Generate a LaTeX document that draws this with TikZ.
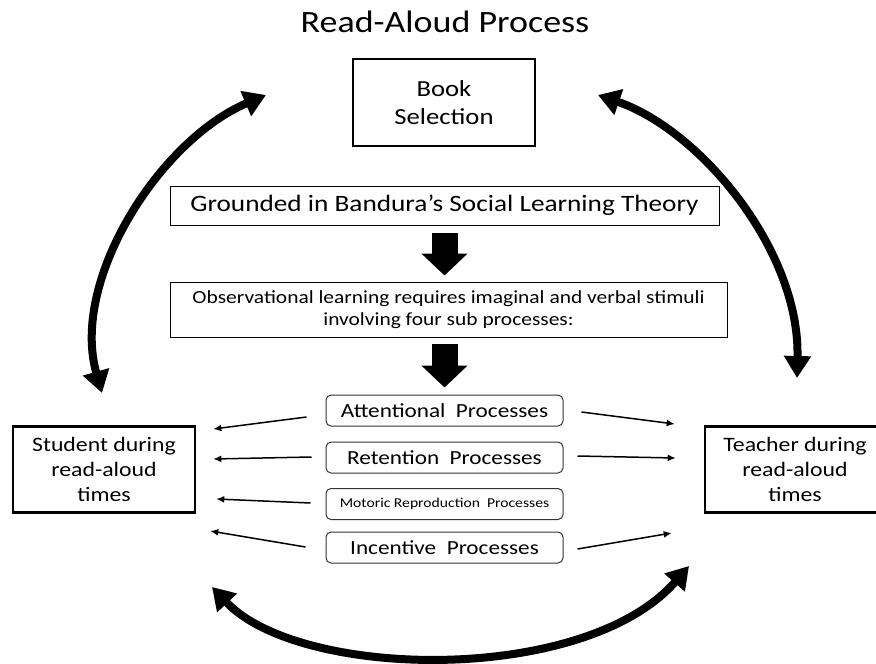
\documentclass[tikz,border=0pt]{standalone}
\usepackage{fontspec}
\setmainfont[FakeStretch=1.16]{Carlito}
\usepackage{tikz}
\usetikzlibrary{arrows.meta, positioning}

\begin{document}
\begin{tikzpicture}[x=1pt, y=-1pt,
    bx/.style={rectangle, draw, line width=2.6pt, align=center, inner sep=0pt},
    tb/.style={rectangle, draw, line width=1pt, align=center, inner sep=0pt},
    pr/.style={rectangle, rounded corners=5pt, draw=black!80, line width=1pt,
        minimum width=237pt, minimum height=31pt, inner sep=0pt,
        font=\fontsize{20}{24}\selectfont},
    fat/.style={line width=26pt, -{Triangle[length=22pt, width=45pt]}},
    ar/.style={line width=1.5pt, -{Latex[length=8pt, width=7pt]}},
    big/.style={line width=8pt, {Triangle[length=22pt, width=26pt]}-{Triangle[length=22pt, width=26pt]}}]
\useasboundingbox (0,0) rectangle (876,664);

\node (title) at (445,22) {\fontsize{31}{37}\selectfont Read-Aloud Process};
\node[bx, minimum width=182pt, minimum height=87pt, font=\fontsize{23}{28}\selectfont]
    (B) at (444,102.5) {Book\\Selection};
\node[tb, minimum width=549pt, minimum height=39pt, font=\fontsize{23.5}{28}\selectfont]
    (G) at (444.5,205.5) {Grounded in Bandura’s Social Learning Theory};
\node[tb, minimum width=557pt, minimum height=55pt, font=\fontsize{18.5}{22}\selectfont]
    (O) at (448.5,309.5) {Observational learning requires imaginal and verbal stimuli\\involving four sub processes:};

% the four sub processes
\node[pr] (A) at (444.5,410.5) {Attentional\ \ Processes};
\node[pr] (R) at (444.5,457.5) {Retention\ \ Processes};
\node[pr, font=\fontsize{13.5}{16}\selectfont] (M) at (444.5,504) {Motoric Reproduction\ \ Processes};
\node[pr] (I) at (444.5,547.5) {Incentive\ \ Processes};

\node[bx, minimum width=182pt, minimum height=86pt, font=\fontsize{20.5}{25}\selectfont]
    (S) at (104,469.5) {Student during\\read-aloud\\times};
\node[bx, minimum width=180pt, minimum height=86pt, font=\fontsize{20.5}{25}\selectfont]
    (T) at (795,469.5) {Teacher during\\read-aloud\\times};

\draw[fat, shorten <=7pt, shorten >=6pt] (G.south) -- (G.south |- O.north);
\draw[fat, shorten <=6pt, shorten >=7pt] (G.south |- O.south) -- (G.south |- A.north);

% to the student
\draw[ar] ([shift={(-19,6.5)}]A.west) -- ([shift={(17,-40.5)}]S.east);
\draw[ar] ([shift={(-14,-0.5)}]R.west) -- ([shift={(17,-10.5)}]S.east);
\draw[ar] ([shift={(-15,-1)}]M.west) -- ([shift={(20,29.5)}]S.east);
\draw[ar] ([shift={(-20,-0.5)}]I.west) -- ([shift={(14,61.5)}]S.east);
% to the teacher
\draw[ar] ([shift={(18,1.5)}]A.east) -- ([shift={(-29,-45.5)}]T.west);
\draw[ar] ([shift={(14,-1.5)}]R.east) -- ([shift={(-28,-11.5)}]T.west);
\draw[ar] ([shift={(14,1.5)}]I.east) -- ([shift={(-32,63.5)}]T.west);

% cycle round the outside
\coordinate (s1) at (102,393);
\coordinate (b1) at (266,95);
\coordinate (b2) at (598,95);
\coordinate (t1) at (797,378);
\coordinate (s2) at (212,587);
\coordinate (t2) at (689,566);
\draw[big] (s1) .. controls (70,280) and (160,140) .. (b1);
\draw[big] (b2) .. controls (700,130) and (800,250) .. (t1);
\draw[big] (s2) .. controls (300,680) and (585,685) .. (t2);
\end{tikzpicture}
\end{document}
